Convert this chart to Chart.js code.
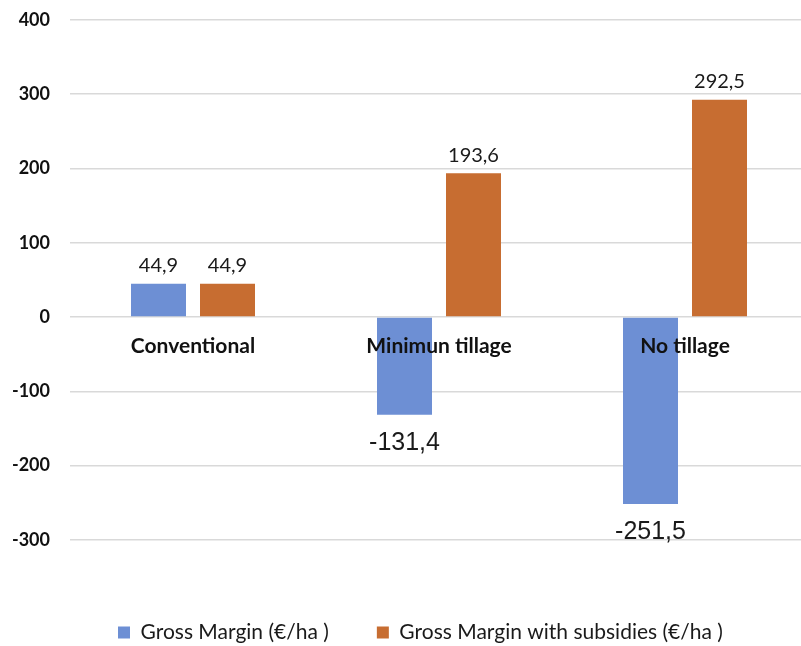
<!DOCTYPE html>
<html>
<head>
<meta charset="utf-8">
<script src="https://cdn.jsdelivr.net/npm/chart.js@4.4.1/dist/chart.umd.min.js"></script>
<style>
  html, body { margin: 0; padding: 0; background: #fff; }
  #frame { width: 801px; height: 646px; overflow: hidden; position: relative; }
  #box { width: 808px; height: 664px; position: absolute; left: 0; top: -11px; }
</style>
</head>
<body>
<div id="frame"><div id="box"><canvas id="marginChart"></canvas></div></div>
<script>
const categories = ['Conventional', 'Minimun tillage', 'No tillage'];
const grossMargin = [44.9, -131.4, -251.5];
const grossMarginSubsidies = [44.9, 193.6, 292.5];
const seriesNames = ['Gross Margin (€/ha )', 'Gross Margin with subsidies (€/ha )'];
const yTicks = [-300, -200, -100, 0, 100, 200, 300, 400];

// value labels above / below each bar, comma decimals
const barLabels = {
    id: 'barLabels',
    afterDatasetsDraw(chart) {
        const c = chart.ctx;
        c.save();
        c.textAlign = 'center';
        c.textBaseline = 'middle';
        c.fillStyle = '#1a1a1a';
        chart.data.datasets.forEach((ds, i) => {
            chart.getDatasetMeta(i).data.forEach((bar, j) => {
                const v = ds.data[j];
                const txt = v.toFixed(1).replace('.', ',');
                if (v >= 0) {
                    c.font = '20px Lato';
                    c.fillText(txt, bar.x, bar.y - 18);
                } else {
                    c.font = '25px "Liberation Sans"';
                    c.fillText(txt, bar.x, bar.y + 28);
                }
            });
        });
        c.restore();
    }
};

new Chart(document.getElementById('marginChart'), {
    type: 'bar',
    data: {
        labels: categories,
        datasets: [{
            label: seriesNames[0],
            data: grossMargin,
            backgroundColor: '#6d8fd4',
            categoryPercentage: 0.561,
            barPercentage: 0.797
        }, {
            label: seriesNames[1],
            data: grossMarginSubsidies,
            backgroundColor: '#c76d31',
            categoryPercentage: 0.561,
            barPercentage: 0.797
        }]
    },
    options: {
        responsive: true,
        maintainAspectRatio: false,
        animation: false,
        layout: { padding: { top: 8, left: 0, right: 0, bottom: 0 } },
        plugins: {
            tooltip: { enabled: false },
            legend: {
                position: 'bottom',
                align: 'start',
                fullSize: false,
                labels: {
                    boxWidth: 12,
                    boxHeight: 12,
                    padding: 48,
                    color: '#1a1a1a',
                    font: { family: 'Lato', size: 21 }
                }
            }
        },
        scales: {
            x: {
                position: { y: 0 },
                grid: { display: false, drawTicks: false },
                border: { display: false },
                ticks: {
                    z: 1,
                    padding: 17,
                    color: '#111',
                    font: { family: 'Lato', size: 21, weight: 'bold' }
                }
            },
            pad: {
                type: 'category',
                axis: 'x',
                position: 'bottom',
                labels: [''],
                grid: { display: false, drawTicks: false },
                border: { display: false },
                ticks: { display: false },
                afterFit: s => { s.height = 34; }
            },
            y: {
                min: yTicks[0],
                max: yTicks[yTicks.length - 1],
                afterBuildTicks: s => { s.ticks = yTicks.map(v => ({ value: v })); },
                afterFit: s => { s.width = 70; },
                grid: { color: '#d9d9d9', lineWidth: 1.5, drawTicks: false },
                border: { display: false },
                ticks: {
                    padding: 20,
                    color: '#111',
                    font: { family: 'Lato', size: 18, weight: 'bold' }
                }
            }
        }
    },
    plugins: [barLabels]
});
</script>
</body>
</html>
